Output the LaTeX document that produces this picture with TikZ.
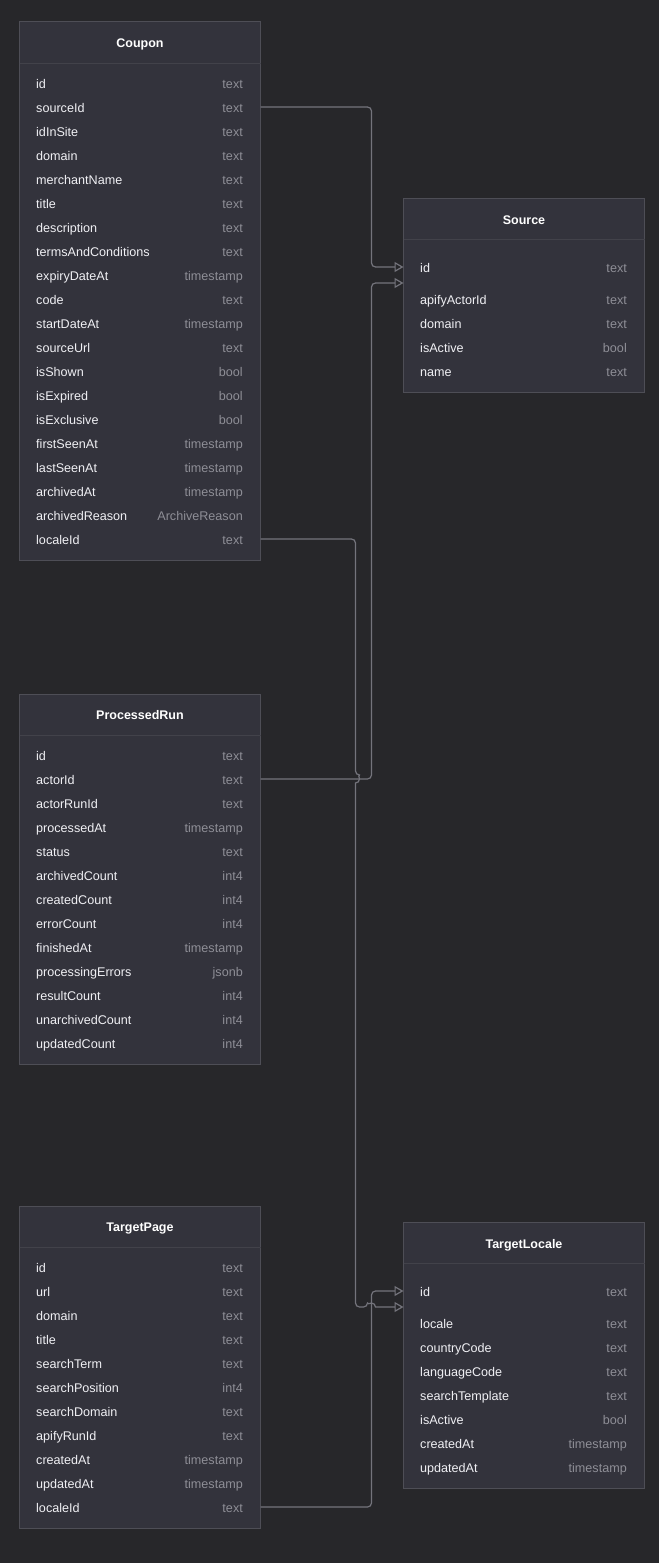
\documentclass[tikz,border=0pt]{standalone}
\usepackage{fontspec}
\setmainfont{Liberation Sans}
\usetikzlibrary{calc,arrows.meta,positioning}
\usepackage{xcolor}

\definecolor{canvas}{RGB}{39,39,42}
\definecolor{boxfill}{RGB}{51,51,60}
\definecolor{boxline}{RGB}{78,78,86}
\definecolor{sepline}{RGB}{66,66,74}
\definecolor{fieldtext}{RGB}{240,240,244}
\definecolor{typetext}{RGB}{142,142,150}
\definecolor{linkline}{RGB}{116,116,124}

\begin{document}
\begin{tikzpicture}[x=1pt,y=1pt,
        tablebox/.style={draw=boxline,fill=boxfill,line width=1pt,inner sep=0pt,outer sep=0pt,minimum width=241pt,anchor=north west},
        tabletitle/.style={font=\fontsize{12.5}{15}\selectfont\bfseries,text=white,inner sep=0pt,text height=9pt,text depth=0pt},
        field/.style={font=\fontsize{12.6}{15}\selectfont,text=fieldtext,inner sep=0pt,text height=9pt,text depth=0pt,anchor=west},
        ftype/.style={font=\fontsize{12.6}{15}\selectfont,text=typetext,inner sep=0pt,text height=9pt,text depth=0pt,anchor=east},
        fk/.style={draw=linkline,line width=1.2pt,-{Triangle[open,length=9pt,width=10pt]}}]
        \fill[canvas] (0,0) rectangle (659,-1563);

        % Coupon
        \node[tablebox,minimum height=538pt] (coupon) at (19.5,-22) {};
        \node[tabletitle] (coupon-title) at ($(coupon.north)+(0,-21)$) {Coupon};
        \draw[sepline] ($(coupon.north west)+(0,-41)$) -- ($(coupon.north east)+(0,-41)$);
        \foreach \f/\t [count=\i] in {id/text,sourceId/text,idInSite/text,domain/text,merchantName/text,title/text,description/text,termsAndConditions/text,expiryDateAt/timestamp,code/text,startDateAt/timestamp,sourceUrl/text,isShown/bool,isExpired/bool,isExclusive/bool,firstSeenAt/timestamp,lastSeenAt/timestamp,archivedAt/timestamp,archivedReason/ArchiveReason,localeId/text}{
            \node[field] (coupon-\f) at ($(coupon.north west)+(16.5,-38-24*\i)$) {\f};
            \node[ftype] (coupon-\f-type) at ($(coupon.north east)+(-17.5,-38-24*\i)$) {\t};
            \coordinate (coupon-\f-e) at ($(coupon.east |- coupon-\f)+(0,1)$);
        }

        % Source
        \node[tablebox,minimum height=194pt] (source) at (403.5,-198) {};
        \node[tabletitle] (source-title) at ($(source.north)+(0,-21.5)$) {Source};
        \draw[sepline] ($(source.north west)+(0,-41)$) -- ($(source.north east)+(0,-41)$);
        \foreach \f/\t [count=\i, evaluate=\i as \dy using {\i==1 ? 70 : 54+24*\i}] in {id/text,apifyActorId/text,domain/text,isActive/bool,name/text}{
            \node[field] (source-\f) at ($(source.north west)+(16.5,-\dy)$) {\f};
            \node[ftype] (source-\f-type) at ($(source.north east)+(-17.5,-\dy)$) {\t};
        }

        % ProcessedRun
        \node[tablebox,minimum height=370pt] (processedrun) at (19.5,-694) {};
        \node[tabletitle] (processedrun-title) at ($(processedrun.north)+(0,-21)$) {ProcessedRun};
        \draw[sepline] ($(processedrun.north west)+(0,-41)$) -- ($(processedrun.north east)+(0,-41)$);
        \foreach \f/\t [count=\i] in {id/text,actorId/text,actorRunId/text,processedAt/timestamp,status/text,archivedCount/int4,createdCount/int4,errorCount/int4,finishedAt/timestamp,processingErrors/jsonb,resultCount/int4,unarchivedCount/int4,updatedCount/int4}{
            \node[field] (processedrun-\f) at ($(processedrun.north west)+(16.5,-38-24*\i)$) {\f};
            \node[ftype] (processedrun-\f-type) at ($(processedrun.north east)+(-17.5,-38-24*\i)$) {\t};
            \coordinate (processedrun-\f-e) at ($(processedrun.east |- processedrun-\f)+(0,1)$);
        }

        % TargetPage
        \node[tablebox,minimum height=322pt] (targetpage) at (19.5,-1206) {};
        \node[tabletitle] (targetpage-title) at ($(targetpage.north)+(0,-21)$) {TargetPage};
        \draw[sepline] ($(targetpage.north west)+(0,-41)$) -- ($(targetpage.north east)+(0,-41)$);
        \foreach \f/\t [count=\i] in {id/text,url/text,domain/text,title/text,searchTerm/text,searchPosition/int4,searchDomain/text,apifyRunId/text,createdAt/timestamp,updatedAt/timestamp,localeId/text}{
            \node[field] (targetpage-\f) at ($(targetpage.north west)+(16.5,-38-24*\i)$) {\f};
            \node[ftype] (targetpage-\f-type) at ($(targetpage.north east)+(-17.5,-38-24*\i)$) {\t};
            \coordinate (targetpage-\f-e) at ($(targetpage.east |- targetpage-\f)+(0,1)$);
        }

        % TargetLocale
        \node[tablebox,minimum height=266pt] (targetlocale) at (403.5,-1222) {};
        \node[tabletitle] (targetlocale-title) at ($(targetlocale.north)+(0,-21.5)$) {TargetLocale};
        \draw[sepline] ($(targetlocale.north west)+(0,-41)$) -- ($(targetlocale.north east)+(0,-41)$);
        \foreach \f/\t [count=\i, evaluate=\i as \dy using {\i==1 ? 70 : 54+24*\i}] in {id/text,locale/text,countryCode/text,languageCode/text,searchTemplate/text,isActive/bool,createdAt/timestamp,updatedAt/timestamp}{
            \node[field] (targetlocale-\f) at ($(targetlocale.north west)+(16.5,-\dy)$) {\f};
            \node[ftype] (targetlocale-\f-type) at ($(targetlocale.north east)+(-17.5,-\dy)$) {\t};
        }

        % links
        \coordinate (source-in1) at ($(source.west |- source-id)+(0,1)$);
        \coordinate (source-in2) at ($(source-in1)+(0,-16)$);
        \coordinate (targetlocale-in1) at ($(targetlocale.west |- targetlocale-id)+(0,1)$);
        \coordinate (targetlocale-in2) at ($(targetlocale-in1)+(0,-16)$);
        \path (coupon-localeId-e) ++(95,0) coordinate (bus3);
        \path (targetpage-localeId-e) ++(111,0) coordinate (bus4);
        \coordinate (hop1) at (bus3 |- processedrun-actorId-e);
        \coordinate (hop2) at (bus4 |- targetlocale-in2);

        \draw[fk,rounded corners=4pt] (coupon-sourceId-e) -- ++(111,0) |- (source-in1);
        \draw[fk,rounded corners=4pt] (processedrun-actorId-e) -- ++(111,0) |- (source-in2);
        \draw[fk,rounded corners=4pt] (targetpage-localeId-e) -- (bus4) |- (targetlocale-in1);
        \draw[fk,rounded corners=4pt] (coupon-localeId-e) -- (bus3) -- ([yshift=4pt]hop1) [sharp corners] arc[start angle=90,end angle=-90,radius=4pt] [rounded corners=4pt] -- (bus3 |- targetlocale-in2) -- ([xshift=-4pt]hop2) [sharp corners] arc[start angle=180,end angle=0,radius=4pt] -- (targetlocale-in2);
    \end{tikzpicture}
\end{document}
